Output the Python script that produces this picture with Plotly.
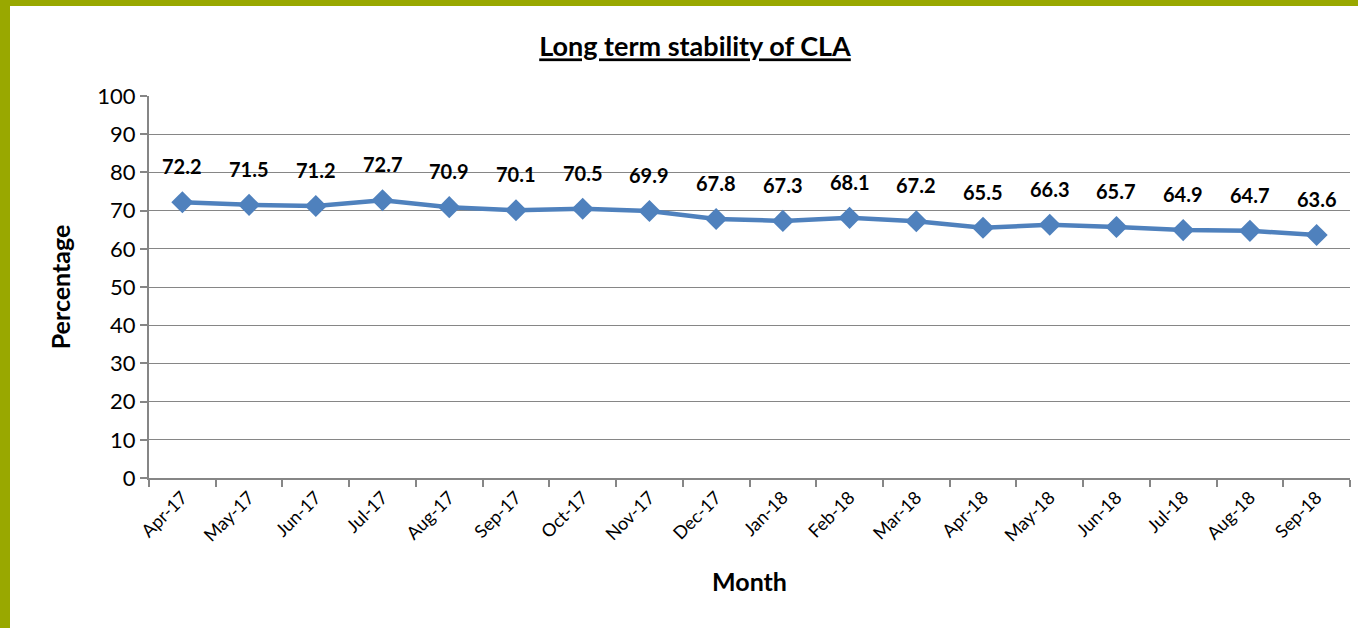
import plotly.graph_objects as go

months = ["Apr-17", "May-17", "Jun-17", "Jul-17", "Aug-17", "Sep-17", "Oct-17", "Nov-17", "Dec-17",
          "Jan-18", "Feb-18", "Mar-18", "Apr-18", "May-18", "Jun-18", "Jul-18", "Aug-18", "Sep-18"]
percentage = [72.2, 71.5, 71.2, 72.7, 70.9, 70.1, 70.5, 69.9, 67.8,
              67.3, 68.1, 67.2, 65.5, 66.3, 65.7, 64.9, 64.7, 63.6]
y_ticks = list(range(0, 101, 10))

W, H = 1358, 628
ml, mr, mt, mb = 149, 8, 96, 150
font = "Lato, 'Open Sans', sans-serif"

fig = go.Figure()
fig.add_trace(go.Scatter(
    x=months, y=percentage, mode="lines+markers",
    line=dict(color="#4F81BD", width=4.5),
    marker=dict(symbol="diamond", size=17, color="#4F81BD"),
    showlegend=False, hoverinfo="x+y",
))

# data labels above each point
annotations = [dict(x=m, y=v, text="<b>%.1f</b>" % v, showarrow=False, yshift=36,
                    font=dict(size=20, color="black", family=font))
               for m, v in zip(months, percentage)]

# olive frame on the left and top edges
pw = W - ml - mr
ph = H - mt - mb
shapes = [
    dict(type="rect", xref="paper", yref="paper", x0=-ml / pw, x1=(10 - ml) / pw,
         y0=-mb / ph, y1=1 + mt / ph, fillcolor="#99A800", line_width=0, layer="below"),
    dict(type="rect", xref="paper", yref="paper", x0=-ml / pw, x1=1 + mr / pw,
         y0=1 + (mt - 6) / ph, y1=1 + mt / ph, fillcolor="#99A800", line_width=0, layer="below"),
]

fig.update_layout(
    width=W, height=H,
    margin=dict(l=ml, r=mr, t=mt, b=mb, autoexpand=False),
    paper_bgcolor="white", plot_bgcolor="white",
    font=dict(family=font, color="black"),
    title=dict(text="<u><b>Long term stability of CLA</b></u>", x=695 / W, xanchor="center",
               y=1 - 47 / H, yanchor="middle", font=dict(size=27)),
    annotations=annotations,
    shapes=shapes,
    xaxis=dict(
        type="category", range=[-0.5, len(months) - 0.5],
        tickson="boundaries", ticks="outside", ticklen=7, tickwidth=2, tickcolor="#868686",
        showline=True, linecolor="#868686", linewidth=2, showgrid=False,
        tickangle=-45, tickfont=dict(size=18),
        title=dict(text="<b>Month</b>", font=dict(size=25), standoff=29),
    ),
    yaxis=dict(
        range=[0, 100], tickvals=y_ticks,
        ticks="outside", ticklen=7, tickwidth=2, tickcolor="#868686",
        showline=True, linecolor="#868686", linewidth=2,
        showgrid=True, gridcolor="#868686", gridwidth=1,
        zeroline=False, tickfont=dict(size=22),
        title=dict(text="<b>Percentage</b>", font=dict(size=25), standoff=20),
    ),
)

fig.write_html("out.html", config={"displayModeBar": False},
               post_script="document.body.style.margin='0';")
